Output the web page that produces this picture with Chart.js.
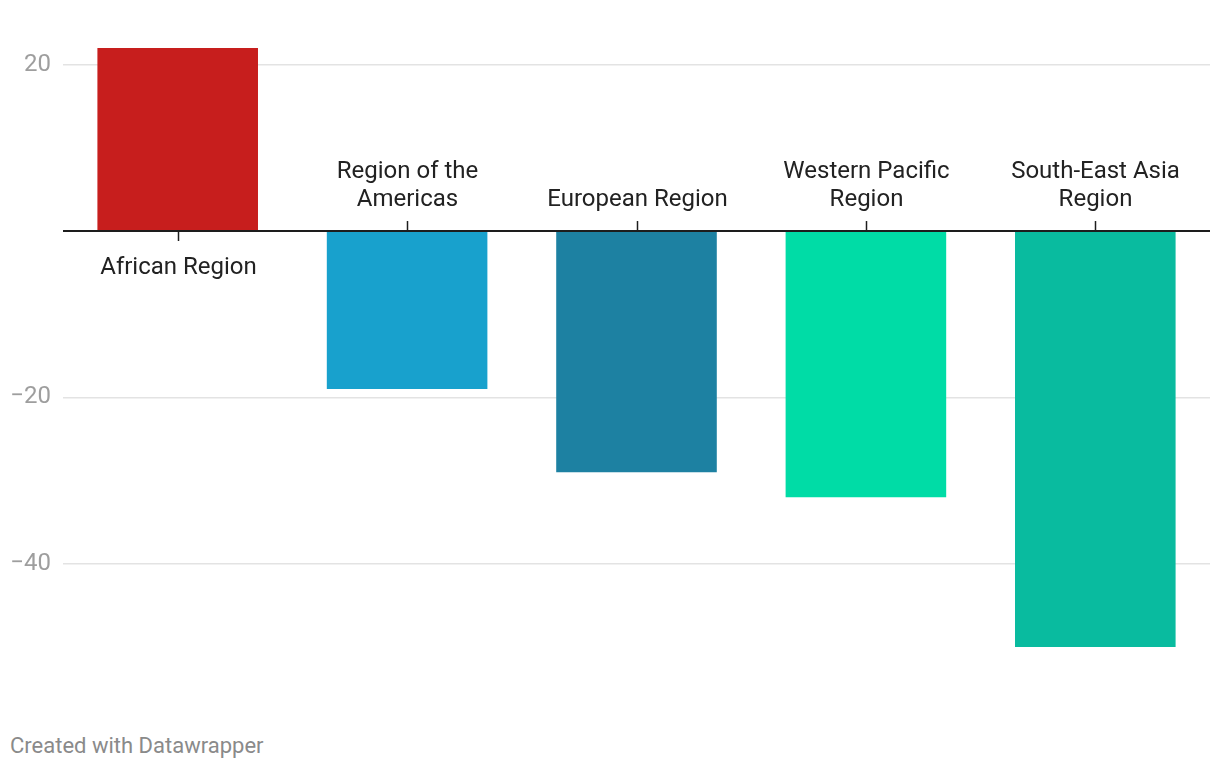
<!DOCTYPE html>
<html lang="en">
<head>
  <meta charset="UTF-8" />
  <title>Regions</title>
  <style>
    body {
      margin: 0;
      background: #fff;
      font-family: Roboto, Arial, sans-serif;
    }
    #wrap {
      position: relative;
      width: 1220px;
      height: 720px;
    }
    #credit {
      position: absolute;
      left: 10px;
      top: 733px;
      font-size: 22px;
      color: #8a8a8a;
    }
  </style>
</head>
<body>
  <div id="wrap">
    <canvas id="chart" width="1220" height="720"></canvas>
  </div>
  <div id="credit">Created with Datawrapper</div>

  <script src="https://cdn.jsdelivr.net/npm/chart.js"></script>
  <script>
    const categories = [
      ['African Region'],
      ['Region of the', 'Americas'],
      ['European Region'],
      ['Western Pacific', 'Region'],
      ['South-East Asia', 'Region']
    ];
    const values = [22, -19, -29, -32, -50];
    const barColors = ['#c71e1d', '#18a1cd', '#1d81a2', '#00dca6', '#09bb9f'];
    const yTicks = [-40, -20, 20];

    // baseline, tick marks and the category labels above/below it
    const baselinePlugin = {
      id: 'baseline',
      afterDatasetsDraw(chart) {
        const { ctx, chartArea, scales } = chart;
        const y0 = scales.y.getPixelForValue(0);
        ctx.save();
        ctx.strokeStyle = '#1d1d1d';
        ctx.lineWidth = 2;
        ctx.beginPath();
        ctx.moveTo(chartArea.left, y0);
        ctx.lineTo(chartArea.right, y0);
        ctx.stroke();

        ctx.font = '24px Roboto, Arial, sans-serif';
        ctx.fillStyle = '#222';
        ctx.textAlign = 'center';
        ctx.textBaseline = 'middle';
        categories.forEach((lines, i) => {
          const x = Math.round(scales.x.getPixelForValue(i)) + 0.5;
          ctx.lineWidth = 1.5;
          ctx.beginPath();
          if (values[i] >= 0) {
            ctx.moveTo(x, y0);
            ctx.lineTo(x, y0 + 10);
          } else {
            ctx.moveTo(x, y0);
            ctx.lineTo(x, y0 - 10);
          }
          ctx.stroke();
          if (values[i] >= 0) {
            lines.forEach((t, j) => ctx.fillText(t, x, y0 + 37 + j * 28));
          } else {
            const n = lines.length;
            lines.forEach((t, j) => ctx.fillText(t, x, y0 - 31 - (n - 1 - j) * 28));
          }
        });
        ctx.restore();
      }
    };

    new Chart(document.getElementById('chart'), {
      type: 'bar',
      data: {
        labels: categories.map(c => c.join(' ')),
        datasets: [{
          data: values,
          backgroundColor: barColors,
          borderWidth: 0,
          barPercentage: 0.7,
          categoryPercentage: 1
        }]
      },
      options: {
        responsive: false,
        animation: false,
        layout: { padding: { top: 48, right: 10, bottom: 73, left: 0 } },
        plugins: {
          legend: { display: false },
          tooltip: { enabled: false }
        },
        scales: {
          x: { display: false },
          y: {
            min: -50,
            max: 22,
            afterFit(scale) { scale.width = 63; },
            afterBuildTicks(scale) {
              scale.ticks = yTicks.map(v => ({ value: v }));
            },
            border: { display: false },
            grid: {
              color: '#e3e3e3',
              lineWidth: 1.5,
              drawTicks: false
            },
            ticks: {
              padding: 12,
              color: '#9e9e9e',
              font: { family: 'Roboto, Arial, sans-serif', size: 24 },
              callback: v => (v < 0 ? '\u2212' + Math.abs(v) : String(v))
            }
          }
        }
      },
      plugins: [baselinePlugin]
    });
  </script>
</body>
</html>
